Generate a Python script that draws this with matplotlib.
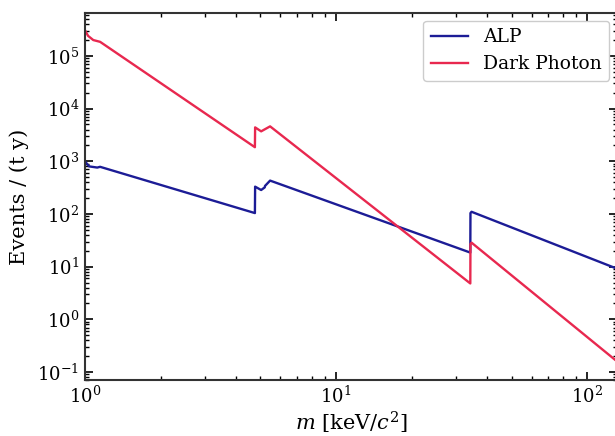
"""
ALP / dark photon event rates vs mass
"""
import matplotlib
matplotlib.use('Agg')
import matplotlib.pyplot as plt
from matplotlib.ticker import LogLocator, NullFormatter, FixedLocator

# masses [keV/c^2] and event rates [1/(t y)]
alp_m = [1.0, 1.04, 1.12, 1.15, 4.75, 4.76, 5.03, 5.2, 5.21, 5.46, 34.2, 34.25, 34.6, 130.0]
alp_rate = [1000, 800, 760, 785, 104, 330, 285, 320, 340, 430, 18.5, 104, 110, 9.3]

dp_m = [1.0, 1.03, 1.08, 1.15, 4.75, 4.76, 5.03, 5.46, 34.2, 34.25, 34.6, 130.0]
dp_rate = [3.1e5, 2.4e5, 2.0e5, 1.85e5, 1.85e3, 4.4e3, 3.7e3, 4.6e3, 4.8, 27, 28.5, 0.165]

y_major = [1e-1, 1e0, 1e1, 1e2, 1e3, 1e4, 1e5]

plt.rcParams['font.family'] = 'DejaVu Serif'
plt.rcParams['mathtext.fontset'] = 'dejavuserif'

fig = plt.figure(figsize=(6.15, 4.36), dpi=100)
ax = fig.add_axes([0.138, 0.128, 0.865, 0.842])

ax.plot(alp_m, alp_rate, color='#1c1c96', lw=1.7, label='ALP')
ax.plot(dp_m, dp_rate, color='#e8284f', lw=1.7, label='Dark Photon')

ax.set_xscale('log')
ax.set_yscale('log')
ax.set_xlim(1, 131)
ax.set_ylim(0.07, 6.5e5)

ax.yaxis.set_major_locator(FixedLocator(y_major))
ax.yaxis.set_minor_locator(LogLocator(base=10, subs=range(2, 10), numticks=20))
ax.yaxis.set_minor_formatter(NullFormatter())

ax.tick_params(which='both', direction='in', top=True, right=True, labelsize=13)
ax.tick_params(which='major', length=6, width=1.2, pad=4)
ax.tick_params(which='minor', length=3, width=1.0)
for s in ax.spines.values():
    s.set_linewidth(1.5)
    s.set_color('#333333')

ax.set_xlabel('$m$ [keV/$c^2$]', fontsize=15, labelpad=2)
ax.set_ylabel('Events / (t y)', fontsize=15, labelpad=6)

ax.legend(loc='upper right', fontsize=13.5, framealpha=1.0, edgecolor='#cccccc',
          borderaxespad=0.4)

fig.savefig('out.png', dpi=100)
